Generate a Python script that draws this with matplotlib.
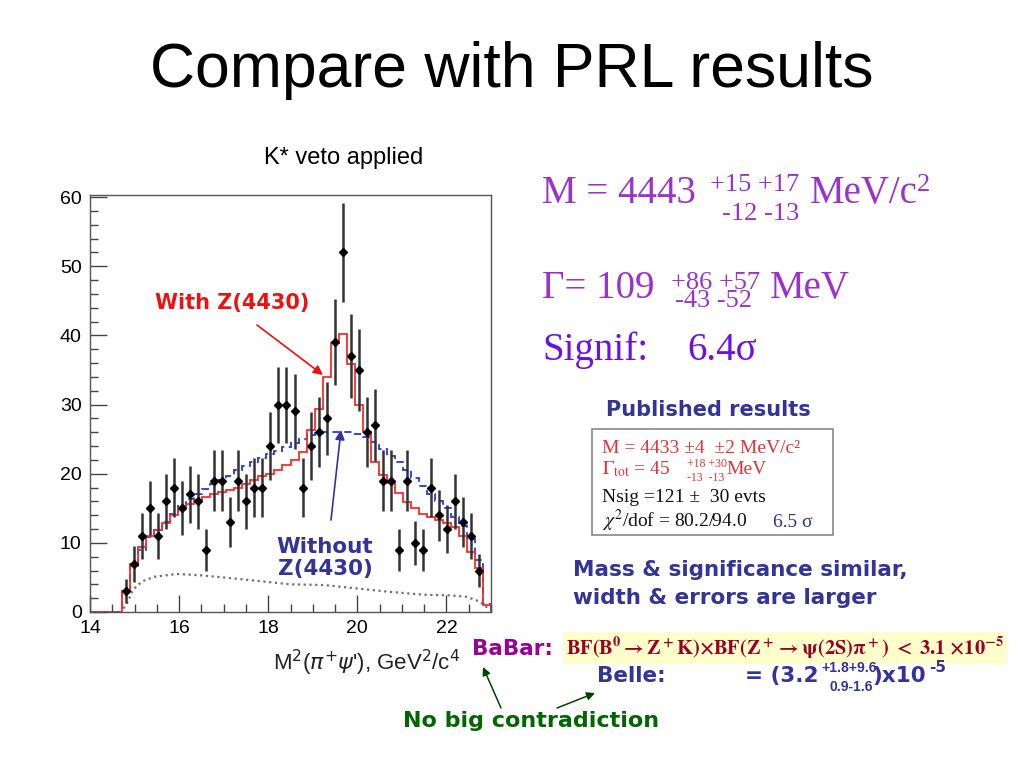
import numpy as np
import matplotlib
matplotlib.use("Agg")
import matplotlib.pyplot as plt
from matplotlib.patches import Rectangle
from matplotlib.ticker import MultipleLocator

plt.rcParams["mathtext.fontset"] = "stix"

# histogram binning: 50 bins between 14 and 23 GeV^2/c^4
x_lo, x_hi, n_bins = 14.0, 23.0, 50

# data points (bins 4..48) and their errors
first_bin = 4
counts = [3, 7, 11, 15, 11, 16, 18, 15, 17, 16, 9, 19, 19, 13, 19, 16, 18, 18,
          24, 30, 30, 29, 18, 24, 26, 28, 39, 52, 37, 35, 26, 27, 19, 19, 9, 19,
          10, 9, 18, 14, 12, 16, 13, 11, 6]
count_err = [1.7, 2.6, 3.3, 3.9, 3.3, 4.0, 4.2, 3.9, 4.1, 4.0, 3.0, 4.4, 4.4,
             3.6, 4.4, 4.0, 4.2, 4.2, 4.9, 5.5, 5.5, 5.4, 4.2, 4.9, 5.1, 5.3,
             6.2, 7.2, 6.1, 5.9, 5.1, 5.2, 4.4, 4.4, 3.0, 4.4, 3.2, 3.0, 4.2,
             3.7, 3.5, 4.0, 3.6, 3.3, 2.4]

# fit with Z(4430) (red) and without (blue), all 50 bins
fit_with = [0, 0, 0, 0, 3.0, 7.0, 9.4, 11.0, 11.8, 12.8, 14.0, 15.0, 15.6, 16.2,
            16.6, 17.0, 17.3, 17.6, 18.0, 18.5, 19.1, 19.6, 20.0, 20.6, 21.2,
            22.0, 23.2, 26.3, 29.4, 34.0, 38.9, 40.2, 35.9, 29.9, 26.1, 21.7,
            19.8, 18.6, 17.2, 15.9, 15.0, 14.2, 13.7, 13.3, 12.8, 12.3, 11.0,
            8.7, 6.3, 1.0]
fit_without = [0, 0, 0, 0, 3.0, 6.6, 9.0, 10.8, 11.8, 13.0, 14.2, 15.3, 16.3,
               17.1, 17.8, 18.5, 19.1, 19.6, 20.6, 21.1, 21.7, 22.2, 22.8, 23.3,
               23.9, 24.4, 25.0, 25.6, 25.9, 26.0, 26.1, 26.1, 26.0, 25.8, 25.3,
               24.6, 23.6, 22.6, 21.7, 20.6, 19.4, 18.2, 17.0, 16.0, 15.0, 13.8,
               12.4, 10.5, 7.5, 1.2]

# background curve (dotted)
bkg_x = [14.75, 14.85, 14.95, 15.05, 15.2, 15.45, 15.95, 16.5, 17.15, 17.9,
         18.5, 19.25, 20.0, 20.75, 21.5, 22.1, 22.45, 22.75, 22.98]
bkg_y = [0.5, 1.5, 3.0, 3.8, 4.5, 5.1, 5.5, 5.3, 4.9, 4.4, 4.0, 3.9, 3.4, 2.9,
         2.5, 2.4, 2.2, 1.5, 0.3]

W, H = 1024, 768
SANS = "Liberation Sans"
SERIF = "Liberation Serif"
BOLD = ["DejaVu Sans"]
PURPLE = "#9933CC"
NAVY = "#333399"
RED = "#E03535"


def fx(x):
    return x / W


def fy(y):
    return 1 - y / H


fig = plt.figure(figsize=(W / 100, H / 100), dpi=100)
ax = fig.add_axes([fx(90), fy(612), (491 - 90) / W, (612 - 195) / H])

edges = np.linspace(x_lo, x_hi, n_bins + 1)
centers = (edges[:-1] + edges[1:]) / 2
xc = centers[first_bin:first_bin + len(counts)]

ax.plot(bkg_x, bkg_y, color="#707070", lw=1.6, ls=(0, (1, 1.6)))
ax.stairs(fit_without, edges, color="#2233EE", lw=1.3, ls=(0, (4, 2.5)))
ax.stairs(fit_with, edges, color="#FF2A2A", lw=1.3)
ax.errorbar(xc, counts, yerr=count_err, fmt="D", ms=4, color="black",
            ecolor="#333333", elinewidth=1.8, capsize=0)

ax.set_xlim(x_lo, x_hi)
ax.set_ylim(0, 60.3)
ax.xaxis.set_major_locator(MultipleLocator(2))
ax.xaxis.set_minor_locator(MultipleLocator(0.5))
ax.yaxis.set_major_locator(MultipleLocator(10))
ax.yaxis.set_minor_locator(MultipleLocator(2))
ax.tick_params(which="both", direction="in", top=False, right=False,
               colors="#444444", labelcolor="black")
ax.tick_params(which="major", length=12, width=1.0, pad=6)
ax.tick_params(which="minor", length=6, width=1.0)
for lab in ax.get_xticklabels() + ax.get_yticklabels():
    lab.set_fontfamily(SANS)
    lab.set_fontsize(14)
for sp in ax.spines.values():
    sp.set_color("#555555")
    sp.set_linewidth(1.0)

# axis title, ROOT style: right aligned
fig.text(fx(460), fy(663), r"M$^{2}$($\pi^{+}\psi$'), GeV$^{2}$/c$^{4}$",
         ha="right", va="center", fontsize=16, family=SANS,
         math_fontfamily="dejavusans", color="#222222")

# titles
fig.text(fx(512), fy(70), "Compare with PRL results", ha="center", va="center",
         fontsize=45, family=SANS)
fig.text(fx(344), fy(158), "K* veto applied", ha="center", va="center",
         fontsize=17, family=SANS)

# plot annotations
fig.text(fx(155), fy(303), "With Z(4430)", ha="left", va="center",
         fontsize=15, weight="bold", color="#EE1111", family=BOLD)
fig.text(fx(325), fy(558), "Without\nZ(4430)", ha="center", va="center",
         fontsize=15.5, weight="bold", color=NAVY, family=BOLD,
         linespacing=1.15)
ax.annotate("", xy=(fx(323), fy(375)), xytext=(fx(257), fy(325)),
            xycoords="figure fraction", textcoords="figure fraction",
            arrowprops=dict(arrowstyle="-|>", color="#EE1111", lw=1.2,
                            mutation_scale=14, shrinkA=0, shrinkB=0))
ax.annotate("", xy=(fx(341), fy(430)), xytext=(fx(331), fy(520)),
            xycoords="figure fraction", textcoords="figure fraction",
            arrowprops=dict(arrowstyle="-|>", color=NAVY, lw=1.2,
                            mutation_scale=14, shrinkA=0, shrinkB=0))

# fit results (serif)
fig.text(fx(542), fy(203), "M = 4443", fontsize=28, family=SERIF,
         color=PURPLE, va="baseline")
fig.text(fx(710), fy(191), "+15 +17", fontsize=19, family=SERIF,
         color=PURPLE, va="baseline")
fig.text(fx(722), fy(220), "-12 -13", fontsize=19, family=SERIF,
         color=PURPLE, va="baseline")
fig.text(fx(810), fy(203), "MeV/c", fontsize=28, family=SERIF,
         color=PURPLE, va="baseline")
fig.text(fx(917), fy(191), "2", fontsize=19, family=SERIF,
         color=PURPLE, va="baseline")

fig.text(fx(542), fy(298), "Γ= 109", fontsize=28, family=SERIF,
         color=PURPLE, va="baseline")
fig.text(fx(671), fy(289), "+86 +57", fontsize=19, family=SERIF,
         color=PURPLE, va="baseline")
fig.text(fx(675), fy(307), "-43 -52", fontsize=19, family=SERIF,
         color=PURPLE, va="baseline")
fig.text(fx(770), fy(298), "MeV", fontsize=28, family=SERIF,
         color=PURPLE, va="baseline")

fig.text(fx(542), fy(360), "Signif:", fontsize=28, family=SERIF,
         color="#6A12E6", va="baseline")
fig.text(fx(687), fy(360), "6.4σ", fontsize=28, family=SERIF,
         color="#6A12E6", va="baseline")

# published results box
fig.text(fx(708), fy(410), "Published results", ha="center", va="center",
         fontsize=15, weight="bold", color=NAVY, family=BOLD)
fig.add_artist(Rectangle((fx(592), fy(535)), (833 - 592) / W, (535 - 429) / H,
                         transform=fig.transFigure, fill=False,
                         edgecolor="#888888", lw=1.2))
fig.text(fx(602), fy(453), "M = 4433 ±4  ±2 MeV/c²", fontsize=14,
         family=SERIF, color=RED, va="baseline")
fig.text(fx(602), fy(474), r"$\Gamma_{\rm tot}$ = 45", fontsize=14,
         family=SERIF, color=RED, va="baseline")
fig.text(fx(687), fy(467), "+18 +30", fontsize=8.5, family=SERIF,
         color=RED, va="baseline")
fig.text(fx(687), fy(481), "-13  -13", fontsize=8.5, family=SERIF,
         color=RED, va="baseline")
fig.text(fx(726), fy(474), "MeV", fontsize=14, family=SERIF, color=RED,
         va="baseline")
fig.text(fx(602), fy(502), "Nsig =121 ±  30 evts", fontsize=14,
         family=SERIF, color="#111111", va="baseline")
fig.text(fx(602), fy(527), r"$\chi^2$/dof = 80.2/94.0", fontsize=14,
         family=SERIF, color="#111111", va="baseline")
fig.text(fx(773), fy(527), "6.5 σ", fontsize=14, family=SERIF,
         color="#333388", va="baseline")

fig.text(fx(573), fy(584), "Mass & significance similar,\nwidth & errors are larger",
         ha="left", va="center", fontsize=15.5, weight="bold", color=NAVY,
         family=BOLD, linespacing=1.45)

# BaBar / Belle comparison
fig.text(fx(472), fy(655), "BaBar:", fontsize=15.5, weight="bold",
         color="#990099", family=BOLD, va="baseline")
fig.text(fx(566), fy(655),
         r"$\mathbf{BF(B^0{\rightarrow}Z^+K){\times}BF(Z^+{\rightarrow}\psi(2S)\pi^+)}$"
         r"$\mathbf{\ {<}\ 3.1\ {\times}10^{-5}}$",
         fontsize=14.7, color="#990022", va="baseline",
         bbox=dict(boxstyle="square,pad=0.15", facecolor="#FFFFCC",
                   edgecolor="none"))
fig.text(fx(597), fy(682), "Belle:", fontsize=15.5, weight="bold",
         color=NAVY, family=BOLD, va="baseline")
fig.text(fx(745), fy(682), "= (3.2", fontsize=15.5, weight="bold",
         color=NAVY, family=BOLD, va="baseline")
fig.text(fx(821), fy(672), "+1.8+9.6", fontsize=10, weight="bold",
         color=NAVY, family=SANS, va="baseline")
fig.text(fx(830), fy(691), "0.9-1.6", fontsize=10, weight="bold",
         color=NAVY, family=SANS, va="baseline")
fig.text(fx(872), fy(682), ")x10", fontsize=15.5, weight="bold",
         color=NAVY, family=BOLD, va="baseline")
fig.text(fx(929), fy(672), "-5", fontsize=11, weight="bold",
         color=NAVY, family=BOLD, va="baseline")

fig.text(fx(403), fy(721), "No big contradiction", ha="left", va="center",
         fontsize=16, weight="bold", color="#006600", family=BOLD)
for tail, tip in [((501, 708), (483, 667)), ((557, 708), (595, 693))]:
    ax.annotate("", xy=(fx(tip[0]), fy(tip[1])),
                xytext=(fx(tail[0]), fy(tail[1])),
                xycoords="figure fraction", textcoords="figure fraction",
                arrowprops=dict(arrowstyle="-|>", color="#004400", lw=1.1,
                                mutation_scale=12, shrinkA=0, shrinkB=0))

fig.savefig("out.png", dpi=100)
